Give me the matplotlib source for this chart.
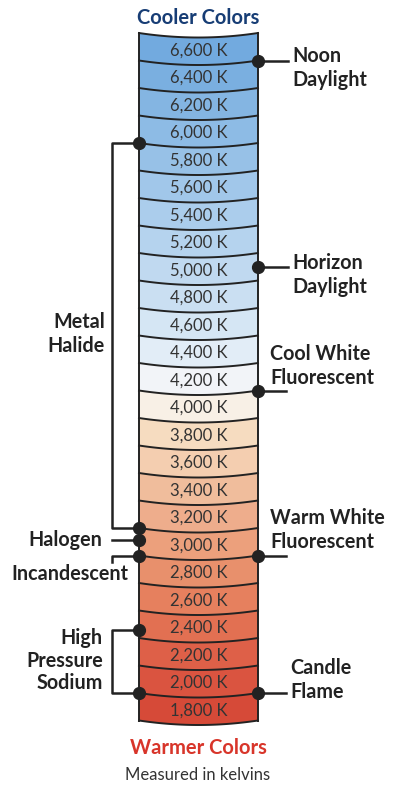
import matplotlib
matplotlib.use("Agg")
import matplotlib.pyplot as plt
import numpy as np
from matplotlib.patches import Polygon

kelvins = list(range(6600, 1799, -200))
band_labels = [f"{k:,} K" for k in kelvins]
band_colors = ["#72aadf", "#7aafe0", "#84b5e2", "#8dbbe5", "#97c1e7", "#a1c7ea",
               "#abcdec", "#b5d3ee", "#c0d9f0", "#cadff2", "#d5e6f4", "#e2edf7",
               "#f2f4f8", "#f8f0e6", "#f6dcc0", "#f4ceb0", "#f0bd9c", "#eead8c",
               "#eca07c", "#e8906c", "#e6805e", "#e27052", "#de6048", "#da5440", "#d64a38"]

# right annotations: (label lines, position in band units from top)
right_notes = [(["Noon", "Daylight"], 1.0), (["Horizon", "Daylight"], 8.5),
               (["Cool White", "Fluorescent"], 13.0), (["Warm White", "Fluorescent"], 19.0),
               (["Candle", "Flame"], 24.0)]

FONT = ["Lato", "DejaVu Sans"]
fig = plt.figure(figsize=(4.04, 8), dpi=100)
ax = fig.add_axes([0, 0, 1, 1])
ax.set_xlim(0, 404); ax.set_ylim(800, 0); ax.axis("off")

X0, X1, TOP, H, SAG = 139, 258, 33, 27.5, 4.5
xs = np.linspace(X0, X1, 60)
def edge(i):
    t = (xs - X0) / (X1 - X0)
    return TOP + i * H + SAG * 4 * t * (1 - t)
def yb(i):
    return TOP + i * H

for i, (lab, c) in enumerate(zip(band_labels, band_colors)):
    top, bot = edge(i), edge(i + 1)
    pts = np.vstack([np.column_stack([xs, top]), np.column_stack([xs[::-1], bot[::-1]])])
    ax.add_patch(Polygon(pts, closed=True, facecolor=c, edgecolor="none"))
    ax.plot(xs, bot, color="#222", lw=1.4, zorder=3)
    ax.text((X0 + X1) / 2, (top[30] + bot[30]) / 2 - 1, lab, ha="center", va="center",
            fontsize=12, color="#333", family=FONT)
ax.plot(xs, edge(0), color="#222", lw=1.4, zorder=3)
ax.plot([X0, X0], [yb(0), yb(25)], color="#222", lw=1.4, zorder=3)
ax.plot([X1, X1], [yb(0), yb(25)], color="#222", lw=1.4, zorder=3)

lk = dict(color="#222", lw=1.8, zorder=4)
dot = dict(marker="o", ms=8.5, color="#222", zorder=5, ls="none")
tk = dict(fontsize=14.2, fontweight="bold", color="#222", family=FONT)

# right side
for lines, p in right_notes:
    y = yb(p)
    ax.plot([X1], [y], **dot)
    if lines[0] in ("Noon", "Horizon"):
        ax.plot([X1, 288], [y, y], **lk)
        ax.text(292, y - 4, lines[0], ha="left", va="center", **tk)
        ax.text(292, y + 20, lines[1], ha="left", va="center", **tk)
    elif lines[0] == "Candle":
        ax.plot([X1, 286], [y, y], **lk)
        ax.text(290, y - 25, lines[0], ha="left", va="center", **tk)
        ax.text(290, y - 1, lines[1], ha="left", va="center", **tk)
    else:
        ax.plot([X1, 286], [y, y], **lk)
        ax.text(270, y - 37, lines[0], ha="left", va="center", **tk)
        ax.text(270, y - 13, lines[1], ha="left", va="center", **tk)

# left side
BX = 112
mh = (yb(4), yb(18))
ax.plot([X0, BX, BX, X0], [mh[0], mh[0], mh[1], mh[1]], **lk)
ax.plot([X0, X0], list(mh), **dot)
ax.text(BX - 7, 322, "Metal", ha="right", va="center", **tk)
ax.text(BX - 7, 346, "Halide", ha="right", va="center", **tk)

yh = yb(18.45)
ax.plot([X0], [yh], **dot); ax.plot([BX, X0], [yh, yh], **lk)
ax.text(102, yh, "Halogen", ha="right", va="center", **tk)

yi = yb(19)
ax.plot([X0], [yi], **dot); ax.plot([X0, BX, BX], [yi, yi, yi + 6], **lk)
ax.text(128, yi + 18, "Incandescent", ha="right", va="center", **tk)

hp = (yb(21.7), yb(24))
ax.plot([X0, BX, BX, X0], [hp[0], hp[0], hp[1], hp[1]], **lk)
ax.plot([X0, X0], list(hp), **dot)
ax.text(103, 638, "High", ha="right", va="center", **tk)
ax.text(103, 661, "Pressure", ha="right", va="center", **tk)
ax.text(103, 683, "Sodium", ha="right", va="center", **tk)

ax.text(198, 18, "Cooler Colors", ha="center", va="center", fontsize=14.5,
        fontweight="bold", color="#173d75", family=FONT)
ax.text(198, 748, "Warmer Colors", ha="center", va="center", fontsize=14.5,
        fontweight="bold", color="#d8352a", family=FONT)
ax.text(198, 775, "Measured in kelvins", ha="center", va="center", fontsize=12,
        color="#333", family=FONT)

fig.savefig("out.png", dpi=100)
